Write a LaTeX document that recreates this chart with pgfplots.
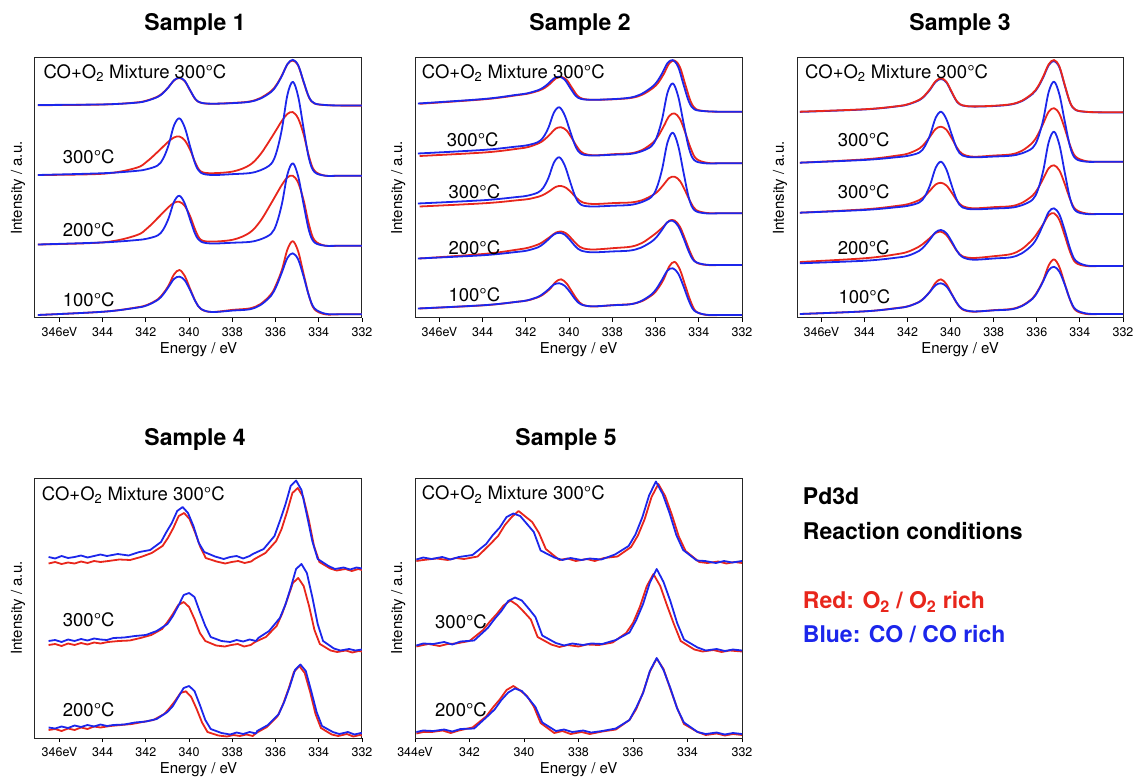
\documentclass[border=0pt]{standalone}
\usepackage{fontspec}
\setmainfont{TeX Gyre Heros}
\usepackage{pgfplots}
\usepackage{pgfplotstable}
\pgfplotsset{compat=1.18}
\definecolor{myred}{RGB}{232,38,28}
\definecolor{myblue}{RGB}{28,38,235}

\pgfplotstableread{
x rA bA rB bB rC bC rD bD
347.0 105.2 105 175 175 244.5 244.5 315 315
343.95 104.5 104.4 173.7 173.2 242.3 242.4 311.7 311.7
342.45 102.5 102.7 167.9 170.9 235.4 240.1 307.5 307.8
341.95 100.5 100.8 161.5 169.2 228.5 238.7 305.0 305.4
341.45 96.5 96.9 151.8 165.4 218.0 235.4 299.3 299.9
341.2 92.6 93.0 146.6 158.6 212.5 229.7 293.5 294.5
340.95 87.0 87.2 141.5 145.2 207.1 218.4 285.6 286.9
340.7 80.5 80.3 137.5 125.6 202.8 201.9 274.5 279.0
340.45 78.0 77.7 136.5 118.3 201.8 195.8 270.0 276.6
340.2 81.2 80.9 140.4 127.5 206.0 203.5 276.0 280.4
339.95 90.6 90.3 149.9 146.7 216.3 219.7 289.0 290.3
339.7 99.5 99.3 163.2 164.7 230.7 234.8 301.5 301.7
339.45 102.8 102.7 171.5 172.8 239.8 241.6 309.1 308.9
338.95 103.8 103.7 173.2 175 241.6 243.5 312.0 312.0
337.95 102.9 103.1 171.4 174.1 239.6 242.7 309.8 310.5
337.2 101.5 101.8 165.1 173.1 232.7 241.9 308.4 309.3
336.7 98.0 98.6 154.3 170.3 221.0 239.4 304.1 305.1
336.2 91.0 91.9 138.0 163.8 203.2 233.7 294.0 295.5
335.95 84.5 85.3 129.3 151.7 193.8 223.5 283.5 285.6
335.7 75.2 75.6 120.6 128.4 184.6 203.4 269.4 272.0
335.45 64.3 64.1 113.9 94.8 177.4 174.4 249.5 257.9
335.2 60.5 59.8 112.1 81.8 175.7 163.3 241.2 253.3
334.95 65.8 65.3 118.6 96.8 182.9 176.6 251.6 259.6
334.7 82.2 81.7 134.4 128.7 200.4 204.5 274.1 276.6
334.45 97.6 97.2 156.7 158.8 224.8 230.8 296.0 296.1
334.2 103.5 103.3 170.7 172.0 240.2 242.4 309.3 308.3
333.7 105.1 105.0 175.7 175.7 245.7 245.7 314.3 313.7
333.0 105.6 105.5 175.7 175.7 245.7 245.7 314.3 314.3
332.0 105.6 105.5 175.7 175.7 245.7 245.7 314.3 314.3
}\Pone

\pgfplotstableread{
x xr rA bA rB bB rC bC rD bD rE bE
347.0 346.92 103.8 103.5 156 153.5 206.5 203.5 258.5 258.5 308.5 308.5
343.95 343.87 99.2 99 152.4 149.9 203.2 200.2 253.8 255.2 305.2 305.2
342.45 342.37 95.1 94.9 148.7 146.6 200.2 197.1 249.5 252.0 301.7 301.9
341.95 341.87 93.5 93.4 146.9 145.3 199.0 195.8 247.6 250.6 300.2 300.4
341.45 341.37 90.4 90.3 142.9 142.2 196.4 192.6 243.9 247.4 296.6 297.0
341.2 341.12 87.8 87.6 139.2 137.5 194.0 187.9 240.5 244.0 293.2 293.7
340.95 340.87 83.6 83.4 134.1 127.4 190.6 177.6 236.7 239.3 288.6 289.3
340.7 340.62 78.5 78.3 128.6 112.5 186.9 162.5 232.7 234.4 281.9 284.5
340.45 340.37 76.9 76.7 127.3 107.3 186.0 157.3 231.5 232.8 279.3 283.3
340.2 340.12 79.7 79.8 130.4 115.4 188.1 165.5 233.6 234.7 283.3 285.9
339.95 339.87 87.7 87.9 138.3 131.4 193.1 181.9 239.0 240.2 291.6 292.3
339.7 339.62 95.5 95.7 147.2 146.5 198.6 197.3 244.8 246.6 299.7 299.7
339.45 339.37 98.8 98.9 153.0 153.7 202.4 204.7 248.2 250.5 304.7 304.4
338.95 338.87 99.8 99.8 155.3 155.5 204.0 206.5 249.5 252.3 306.5 306.3
337.95 337.87 99.2 99.1 154.1 154.7 203.0 205.7 248.0 251.4 305.0 305.2
337.2 337.12 97.9 97.7 153.2 154.0 202.4 205.0 246.6 250.6 304.0 304.4
336.7 336.62 94.8 94.5 150.0 151.7 200.2 202.6 242.9 247.9 301.1 301.4
336.2 336.12 88.0 87.6 142.6 146.4 195.0 197.2 235.5 241.9 294.3 294.6
335.95 335.87 82.6 82.2 135.8 137.5 190.8 188.1 231.2 237.0 288.0 288.5
335.7 335.62 74.0 73.6 126.2 119.5 184.5 169.6 226.2 229.8 279.2 279.7
335.45 335.37 63.5 63.2 116.1 93.0 178.1 142.7 220.7 222.2 266.6 270.6
335.2 335.12 60.5 60.1 113.4 83.4 176.7 132.7 220.5 220.8 261.8 268.3
334.95 334.87 67.2 67.0 119.0 96.6 181.0 146.0 226.8 226.1 269.7 273.6
334.7 334.62 84.8 85.0 132.9 123.4 191.2 173.0 239.8 238.3 285.9 286.6
334.45 334.37 101.7 102.0 148.5 148.6 202.5 198.6 253.5 252.1 301.7 301.2
334.2 334.12 109.2 109.4 158.7 160.3 210.1 210.2 262.4 261.2 311.6 310.8
333.7 333.62 111.3 111.2 162.8 163.3 213.0 213.3 265 264.6 315 314.6
333.0 332.92 111.8 111.7 163.3 163.3 213.3 213.3 265 265 315 315
332.0 332.0 111.8 111.7 163.3 163.3 213.3 213.3 265 265 315 315
}\Ptwo

\pgfplotstableread{
x rA bA rB bB rC bC rD bD rE bE
347.0 111.7 111.9 162.7 162.7 212.7 212.7 262 263.3 314 314
343.95 109.2 109.4 159.3 159.9 209.3 209.9 258.2 260.7 311.3 311.3
342.45 106.1 106.3 155.5 157.1 205.8 207.1 254.0 257.5 307.9 308.1
341.95 104.0 104.3 153.4 155.7 204.0 205.7 251.5 255.5 306.1 306.2
341.45 99.7 100.1 148.5 152.5 200.0 202.4 246.4 250.7 301.7 301.9
341.2 95.3 95.8 143.4 146.4 196.0 196.5 242.4 245.8 297.3 297.5
340.95 88.9 89.5 136.4 134.8 190.4 184.8 237.8 239.2 291.3 291.5
340.7 81.3 82.0 129.1 118.1 184.6 168.1 233.0 232.3 282.8 285.2
340.45 78.3 79.0 126.7 111.7 182.8 161.7 231.7 230.0 279.3 283.3
340.2 81.7 82.3 129.7 119.0 185.4 169.3 235.0 233.1 284.0 286.3
339.95 91.9 92.4 138.2 134.5 192.6 185.5 242.8 241.5 294.0 294.3
339.7 101.6 101.9 147.9 149.1 200.8 200.6 251.2 251.1 303.6 303.2
339.45 105.3 105.5 154.0 155.5 206.0 207.4 256.2 257.1 309.5 309.0
338.95 106.4 106.6 156.7 157.3 208.3 209.3 258 259.7 311.7 311.4
337.95 105.7 106.0 155.5 156.5 207.1 208.5 256.1 258.4 310.1 310.3
337.2 104.2 104.5 154.4 155.7 206.2 207.7 254.1 257.3 309.0 309.4
336.7 100.8 101.2 150.9 153.4 203.0 205.3 249.2 253.4 305.8 306.2
336.2 93.3 94.0 142.7 148.0 195.6 199.7 239.5 244.7 298.3 298.8
335.95 86.6 87.4 134.6 138.4 188.5 189.9 232.2 236.2 290.6 291.3
335.7 76.4 77.3 123.4 119.5 178.6 170.5 224.0 224.3 280.2 281.0
335.45 64.3 65.3 111.7 92.1 168.3 142.3 215.2 212.0 265.5 270.2
335.2 60.0 61.0 108.2 81.7 165.3 131.7 213.3 208.3 259.4 266.8
334.95 66.6 67.5 113.9 94.7 170.5 145.0 220.1 214.6 267.2 271.7
334.7 85.2 85.8 128.8 121.7 184.1 172.8 235.8 230.6 284.0 284.8
334.45 102.7 103.0 145.7 147.2 199.5 199.0 252.3 248.9 300.3 299.9
334.2 109.8 110.0 156.6 158.6 209.4 210.8 262.6 260.5 310.3 309.4
333.7 111.8 111.9 161.2 161.7 213.5 214 266 265.5 314 313.5
333.0 112.3 112.4 161.7 161.7 214 214 266 266 314 314
332.0 112.3 112.4 161.7 161.7 214 214 266 266 314 314
}\Pthree

\pgfplotsset{
  xps/.style={
    scale only axis, width=327pt, height=260pt,
    x dir=reverse, y dir=reverse,
    xmin=332, xmax=347.13,
    axis line style={line width=1pt, black!85},
    xtick={346,344,342,340,338,336,334,332},
    xticklabels={346eV,344,342,340,338,336,334,332},
    ytick=\empty,
    xtick pos=left,
    tick align=outside,
    major tick length=4pt,
    every tick/.style={black, line width=0.9pt},
    xticklabel style={font=\fontsize{12.5}{13}\selectfont, anchor=north, inner sep=0pt, yshift=-5.5pt},
    every axis plot/.append style={line width=1.8pt, line join=round, no markers},
  },
  sm/.style={smooth, tension=0.55},
}

\begin{document}
\begin{tikzpicture}[x=1pt,y=1pt]
\useasboundingbox (0,0) rectangle (1135,777);

% ---------- Sample 1 ----------
\begin{axis}[xps, at={(35pt,459pt)}, anchor=south west, ymin=58, ymax=318]
\addplot[myred, sm] table[x=x,y=rA]{\Pone};
\addplot[myblue, sm] table[x=x,y=bA]{\Pone};
\addplot[myred, sm] table[x=x,y=rB]{\Pone};
\addplot[myblue, sm] table[x=x,y=bB]{\Pone};
\addplot[myred, sm] table[x=x,y=rC]{\Pone};
\addplot[myblue, sm] table[x=x,y=bC]{\Pone};
\addplot[myred, sm] table[x=x,y=rD]{\Pone};
\addplot[myblue, sm] table[x=x,y=bD]{\Pone};
\end{axis}

% ---------- Sample 2 ----------
\begin{axis}[xps, at={(415pt,459pt)}, anchor=south west, ymin=58, ymax=318]
\addplot[myred, sm] table[x=xr,y=rA]{\Ptwo};
\addplot[myblue, sm] table[x=x,y=bA]{\Ptwo};
\addplot[myred, sm] table[x=xr,y=rB]{\Ptwo};
\addplot[myblue, sm] table[x=x,y=bB]{\Ptwo};
\addplot[myred, sm] table[x=xr,y=rC]{\Ptwo};
\addplot[myblue, sm] table[x=x,y=bC]{\Ptwo};
\addplot[myred, sm] table[x=xr,y=rD]{\Ptwo};
\addplot[myblue, sm] table[x=x,y=bD]{\Ptwo};
\addplot[myred, sm] table[x=xr,y=rE]{\Ptwo};
\addplot[myblue, sm] table[x=x,y=bE]{\Ptwo};
\end{axis}

% ---------- Sample 3 ----------
\begin{axis}[xps, at={(797pt,459pt)}, anchor=south west, width=326pt, ymin=58, ymax=318]
\addplot[myblue, sm] table[x=x,y=bA]{\Pthree};
\addplot[myred, sm] table[x=x,y=rA]{\Pthree};
\addplot[myred, sm] table[x=x,y=rB]{\Pthree};
\addplot[myblue, sm] table[x=x,y=bB]{\Pthree};
\addplot[myred, sm] table[x=x,y=rC]{\Pthree};
\addplot[myblue, sm] table[x=x,y=bC]{\Pthree};
\addplot[myred, sm] table[x=x,y=rD]{\Pthree};
\addplot[myblue, sm] table[x=x,y=bD]{\Pthree};
\addplot[myred, sm] table[x=x,y=rE]{\Pthree};
\addplot[myblue, sm] table[x=x,y=bE]{\Pthree};
\end{axis}

% ---------- Sample 4 ----------
\begin{axis}[xps, at={(35pt,39pt)}, anchor=south west, ymin=478, ymax=738]
\addplot[myred] coordinates {(346.5,563.5) (346.2,562) (345.9,564) (345.6,562.5) (345.3,563.5) (345.0,561.5) (344.7,563) (344.4,561) (344.1,562) (343.73,561) (343.23,559.5) (342.73,560) (342.23,557) (341.73,553) (341.23,546) (340.98,538) (340.73,528) (340.48,516) (340.23,513) (339.98,519) (339.73,532) (339.48,547) (339.23,558) (338.73,561.5) (338.33,563.5) (338.03,562) (337.73,561) (337.43,563) (337.13,561.5) (336.97,559) (336.47,553) (335.97,541) (335.72,529) (335.47,512) (335.22,493) (334.97,488) (334.72,497) (334.47,519) (334.22,546) (333.97,562) (333.47,568.5) (333.17,570.5) (332.77,569) (332.47,571) (332.17,569) (332.0,570)};
\addplot[myblue] coordinates {(346.5,557) (346.2,558.5) (345.9,556) (345.6,558) (345.3,557) (345.0,555.5) (344.7,557.5) (344.4,556) (344.1,554.5) (343.8,556) (343.3,554) (342.8,555.5) (342.3,552) (341.8,550) (341.3,542) (341.05,532) (340.8,523) (340.55,511) (340.3,507) (340.05,513) (339.8,526) (339.55,543) (339.3,552) (338.8,556.5) (338.4,559) (338.1,557) (337.8,556) (337.5,558.5) (337.2,556) (337.05,554) (336.55,549) (336.05,536) (335.8,521) (335.55,505) (335.3,486) (335.05,480.5) (334.8,490) (334.55,515) (334.3,541) (334.05,559) (333.55,566) (333.25,569) (332.85,567.5) (332.55,569.5) (332.25,567.5) (332.0,568.5)};
\addplot[myred] coordinates {(346.5,645) (346.2,644) (345.9,646) (345.6,643.5) (345.3,645) (345.0,643) (344.7,644.5) (344.4,642.5) (344.1,643.5) (343.75,642) (343.25,641) (342.75,640.5) (342.25,638) (341.75,635) (341.25,629) (341.0,622) (340.75,614) (340.5,605) (340.25,602) (340.0,607) (339.75,619) (339.5,633) (339.25,641) (338.75,645.5) (338.35,646.5) (338.05,645) (337.75,644) (337.45,646.5) (337.15,645) (336.95,642) (336.45,637) (335.95,626) (335.7,614) (335.45,599) (335.2,583) (334.95,578) (334.7,586) (334.45,606) (334.2,630) (333.95,644) (333.45,650.5) (333.15,652) (332.75,650.5) (332.45,652.5) (332.15,651) (332.0,651.5)};
\addplot[myblue] coordinates {(346.5,641) (346.2,640) (345.9,642) (345.6,639.5) (345.3,641) (345.0,639) (344.7,640.5) (344.4,638.5) (344.1,639.5) (343.8,640) (343.5,638) (343.0,637.5) (342.5,636) (342.0,635) (341.5,631) (341.0,624) (340.75,616) (340.5,606) (340.25,595) (340.0,593) (339.75,597) (339.5,612) (339.25,626) (339.0,637) (338.5,641) (338.1,642) (337.8,640) (337.5,641.5) (337.2,639.5) (336.9,641) (336.8,638) (336.3,631) (335.8,618) (335.55,605) (335.3,588) (335.05,569) (334.8,564) (334.55,573) (334.3,597) (334.05,624) (333.8,641) (333.3,648.5) (333.0,650.5) (332.6,649) (332.3,650.5) (332.0,649.5)};
\addplot[myred] coordinates {(346.5,730) (346.2,729) (345.9,731) (345.6,728.5) (345.3,730) (345.0,727.5) (344.7,729) (344.4,726.5) (344.1,727.5) (343.65,726) (343.15,725) (342.65,724) (342.15,722) (341.65,720) (341.15,714) (340.9,708) (340.65,701) (340.4,693) (340.15,691.3) (339.9,697) (339.65,709) (339.4,722.5) (339.15,732) (338.65,735.5) (338.25,736.5) (337.95,735) (337.65,736) (337.35,734.5) (337.05,736) (336.9,733) (336.4,727) (335.9,716) (335.65,704) (335.4,689) (335.15,672) (334.9,666) (334.65,673) (334.4,692) (334.15,714) (333.9,728) (333.4,734.5) (333.1,736) (332.7,734) (332.4,736.5) (332.1,735) (332.0,735.5)};
\addplot[myblue] coordinates {(346.5,727.5) (346.2,728.5) (345.9,726.5) (345.6,728) (345.3,725.5) (345.0,727) (344.7,725) (344.4,726.5) (344.1,724.5) (343.8,726) (343.5,725) (343.0,724.5) (342.5,722.5) (342.0,721.5) (341.5,719) (341.0,712) (340.75,706) (340.5,697) (340.25,688) (340.0,686) (339.75,691) (339.5,705) (339.25,720) (339.0,729) (338.5,733) (338.1,734.5) (337.8,732.5) (337.5,734) (337.2,732) (336.9,733.5) (336.85,731) (336.35,725) (335.85,714) (335.6,702) (335.35,687) (335.1,670) (334.85,664.5) (334.6,671) (334.35,691) (334.1,712) (333.85,726) (333.35,732) (333.05,734) (332.65,732) (332.35,734.5) (332.05,733) (332.0,733.5)};
\end{axis}

% ---------- Sample 5 ----------
\begin{axis}[xps, at={(415pt,39pt)}, anchor=south west, ymin=478, ymax=738, xmin=332, xmax=344,
  xtick={344,342,340,338,336,334,332}, xticklabels={344eV,342,340,338,336,334,332}]
\addplot[myred] coordinates {(343.95,561) (343.7,560) (343.2,558.5) (342.8,560) (342.5,558) (342.2,559) (341.7,556.5) (341.2,543) (340.95,536) (340.7,525) (340.45,517) (340.2,511) (339.95,516.5) (339.7,522) (339.45,533) (339.2,549) (338.7,560) (338.4,558.5) (338.1,561) (337.7,559) (337.4,561) (337.07,558) (336.57,556.5) (336.07,547) (335.82,535.5) (335.57,519) (335.32,497) (335.07,484) (334.82,496) (334.57,515) (334.32,536.5) (334.07,551) (333.57,562) (333.27,563) (332.87,561.5) (332.57,563.5) (332.27,562) (332.0,563)};
\addplot[myblue] coordinates {(343.95,559.5) (343.7,557.5) (343.39,559) (343.0,557) (342.7,559.5) (342.39,557) (341.89,555) (341.39,544) (341.14,535) (340.89,527.5) (340.64,517) (340.39,513.5) (340.14,516) (339.89,524) (339.64,532) (339.39,550.5) (338.89,557.5) (338.59,560) (338.29,558) (337.89,560) (337.59,558.5) (337.16,559.5) (336.66,554.5) (336.16,546) (335.91,534.5) (335.66,517.5) (335.41,495.5) (335.16,481.5) (334.91,494) (334.66,513) (334.41,535) (334.16,550) (333.66,560.5) (333.36,561) (332.96,563) (332.66,561) (332.36,562.5) (332.0,561)};
\addplot[myred] coordinates {(343.95,646.5) (343.7,645) (343.5,644) (343.1,646) (342.8,644) (342.5,643.5) (342.0,641) (341.5,630) (341.25,621.5) (341.0,614) (340.75,605.5) (340.5,600.5) (340.25,605) (340.0,612) (339.75,619.5) (339.5,637) (339.0,644.5) (338.7,647) (338.4,645) (338.0,646.5) (337.7,644.5) (337.25,645) (336.75,642.5) (336.25,633) (336.0,623) (335.75,607) (335.5,586.5) (335.25,574) (335.0,586) (334.75,605.5) (334.5,624) (334.25,641) (333.75,649.5) (333.45,651.5) (333.05,650) (332.75,652) (332.45,650.5) (332.0,651.5)};
\addplot[myblue] coordinates {(343.95,645.5) (343.7,643.5) (343.33,644) (342.93,642) (342.63,644.5) (342.33,641.5) (341.83,640.5) (341.33,628) (341.08,619) (340.83,611) (340.58,601) (340.33,597.5) (340.08,600.5) (339.83,608.5) (339.58,617) (339.33,635.5) (338.83,643) (338.53,645.5) (338.23,643.5) (337.83,645) (337.53,643.5) (337.13,644) (336.63,640) (336.13,632.5) (335.88,620) (335.63,604) (335.38,582.5) (335.13,569) (334.88,582) (334.63,601) (334.38,623) (334.13,639.5) (333.63,647.5) (333.33,650.5) (332.93,649) (332.63,651) (332.33,649.5) (332.0,650.5)};
\addplot[myred] coordinates {(343.95,733.5) (343.7,732) (343.39,732) (342.99,730.5) (342.69,733) (342.39,730.5) (341.89,727.5) (341.39,716.5) (341.14,707.5) (340.89,699.5) (340.64,690) (340.39,686) (340.14,690.5) (339.89,696) (339.64,706.5) (339.39,723) (338.89,733) (338.59,731) (338.29,734) (337.89,732) (337.59,734) (337.13,731.5) (336.63,729.5) (336.13,720) (335.88,709) (335.63,692.5) (335.38,671.5) (335.13,658.5) (334.88,669) (334.63,689) (334.38,708) (334.13,724) (333.63,732) (333.33,735) (332.93,733.5) (332.63,735.5) (332.33,734) (332.0,735)};
\addplot[myblue] coordinates {(343.95,732) (343.7,730.5) (343.33,731) (342.93,729.5) (342.63,731.5) (342.33,729) (341.83,728.5) (341.33,716) (341.08,709.5) (340.83,700) (340.58,692.5) (340.33,688.5) (340.08,691) (339.83,698.5) (339.58,707) (339.33,722.5) (338.83,731) (338.53,729.5) (338.23,732) (337.83,730.5) (337.53,732.5) (337.13,731) (336.63,728.5) (336.13,720) (335.88,707.5) (335.63,693) (335.38,671) (335.13,658) (334.88,670) (334.63,688) (334.38,708.5) (334.13,722.5) (333.63,732) (333.33,734) (332.93,732.5) (332.63,734.5) (332.33,733) (332.0,734)};
\end{axis}

% ---------- titles ----------
\begin{scope}[every node/.style={font=\bfseries\fontsize{23}{26}\selectfont, anchor=base}]
\node at (195,746) {Sample 1};
\node at (580,746) {Sample 2};
\node at (960,746) {Sample 3};
\node at (195,331.5) {Sample 4};
\node at (566,331.5) {Sample 5};
\end{scope}

% ---------- annotations ----------
\begin{scope}[every node/.style={font=\fontsize{18.5}{20}\selectfont, anchor=base west, inner sep=0pt}]
\node at (43.3,698.7) {CO+O\textsubscript{2} Mixture 300°C};
\node at (421.7,698.7) {CO+O\textsubscript{2} Mixture 300°C};
\node at (805,698.7) {CO+O\textsubscript{2} Mixture 300°C};
\node at (41.7,276.5) {CO+O\textsubscript{2} Mixture 300°C};
\node at (421.7,277) {CO+O\textsubscript{2} Mixture 300°C};
\node at (62.7,613.7) {300°C};
\node at (62.7,540.3) {200°C};
\node at (62.7,470.3) {100°C};
\node at (446.7,630.3) {300°C};
\node at (448.3,578.7) {300°C};
\node at (448.3,522) {200°C};
\node at (448.3,475.3) {100°C};
\node at (837.7,630.3) {300°C};
\node at (837.7,578.7) {300°C};
\node at (837.7,522) {200°C};
\node at (838.3,473.7) {100°C};
\node at (62.7,150.3) {300°C};
\node at (62.7,60.3) {200°C};
\node at (435,148.7) {300°C};
\node at (435,60.3) {200°C};
\end{scope}

% ---------- axis labels ----------
\begin{scope}[every node/.style={font=\fontsize{15}{17}\selectfont, inner sep=0pt}]
\node[anchor=base] at (198.5,423.7) {Energy / eV};
\node[anchor=base] at (578.5,423.7) {Energy / eV};
\node[anchor=base] at (960,423.7) {Energy / eV};
\node[anchor=base] at (198.5,3.7) {Energy / eV};
\node[anchor=base] at (578.5,3.7) {Energy / eV};
\node[rotate=90] at (18,589) {Intensity / a.u.};
\node[rotate=90] at (398.3,589) {Intensity / a.u.};
\node[rotate=90] at (780,589) {Intensity / a.u.};
\node[rotate=90] at (18,169) {Intensity / a.u.};
\node[rotate=90] at (398.3,169) {Intensity / a.u.};
\end{scope}

% ---------- legend text ----------
\begin{scope}[every node/.style={font=\bfseries\fontsize{23}{26}\selectfont, anchor=base west, inner sep=0pt}]
\node at (802.7,272) {Pd3d};
\node at (802.7,237) {Reaction conditions};
\node[text=myred] at (802.7,168.7) {Red: O\textsubscript{2} / O\textsubscript{2} rich};
\node[text=myblue] at (802.7,134.3) {Blue: CO / CO rich};
\end{scope}
\end{tikzpicture}
\end{document}
